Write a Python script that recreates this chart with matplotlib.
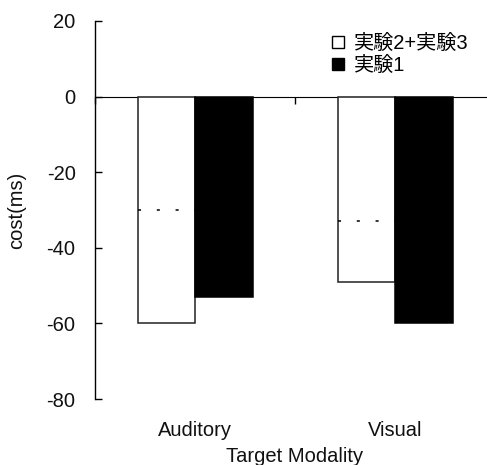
import numpy as np
import matplotlib
matplotlib.use('Agg')
from matplotlib import pyplot as plt
from matplotlib.patches import Patch

# data
categories = ['Auditory', 'Visual']
exp23 = [-60, -49]      # 実験2+実験3 (white)
exp1 = [-53, -60]       # 実験1 (black)
dotted = [-30, -33]     # dotted reference inside white bars
yticks = [20, 0, -20, -40, -60, -80]

plt.rcParams['font.family'] = ['Liberation Sans', 'Noto Sans CJK JP', 'DejaVu Sans']
plt.rcParams['axes.unicode_minus'] = False
fs = 14.5

fig = plt.figure(figsize=(4.87, 4.65), dpi=100)
ax = fig.add_axes([95/487, 66/465, 400/487, 378/465])

x = np.arange(len(categories))
w = 0.2875
ax.bar(x - w/2, exp23, w, facecolor='white', edgecolor='#222222', linewidth=1.1)
ax.bar(x + w/2, exp1, w, facecolor='black', edgecolor='black', linewidth=1.1)
ax.hlines(dotted, x - w, x, colors='black', linewidth=1.1, linestyles=[(0, (2, 10.3))])

ax.set_xlim(-0.5, 1.5)
ax.set_ylim(-80, 20)
ax.set_yticks(yticks)
ax.set_yticklabels([str(v) for v in yticks], fontsize=fs, color='#111111')
ax.tick_params(axis='y', direction='in', length=5, pad=14, width=1)

# category labels at bottom, no visible spine
for s in ['top', 'right', 'bottom']:
    ax.spines[s].set_visible(False)
ax.spines['left'].set_linewidth(1)
ax.set_xticks(x)
ax.set_xticklabels(categories, fontsize=fs, color='#111111')
ax.tick_params(axis='x', length=0, pad=16)
ax.set_xlabel('Target Modality', fontsize=fs, color='#111111', labelpad=5)
ax.set_ylabel('cost(ms)', fontsize=fs, color='#111111', labelpad=15)

# zero line with group separator ticks
sec = ax.secondary_xaxis(0.8)
sec.set_xticks([-0.5, 0.5, 1.5])
sec.set_xticklabels([])
sec.tick_params(direction='in', length=5, width=1)
sec.spines['bottom'].set_linewidth(1)

handles = [Patch(facecolor='white', edgecolor='black', linewidth=1),
           Patch(facecolor='black', edgecolor='black')]
fig.legend(handles, ['実験2+実験3', '実験1'], loc='upper left',
           bbox_to_anchor=(332/487, 1 - 34/465), frameon=False, fontsize=fs,
           handlelength=0.6, handleheight=0.6, handletextpad=0.5,
           labelspacing=0.15, borderaxespad=0, borderpad=0)

fig.savefig('out.png', dpi=100)
